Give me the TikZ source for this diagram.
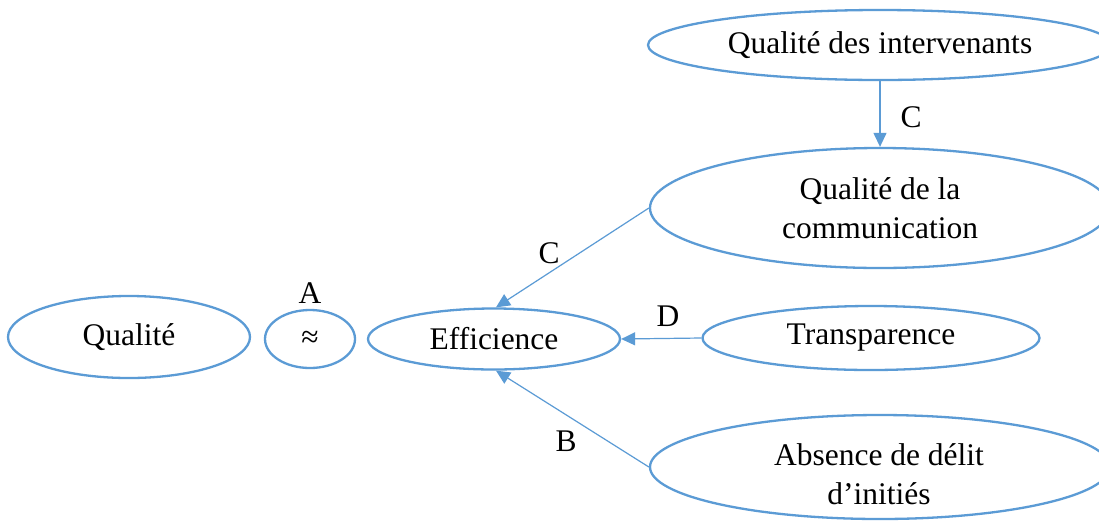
\documentclass[tikz,border=0pt]{standalone}
\usepackage{fontspec}
\setmainfont{Liberation Serif}
\usetikzlibrary{shapes.geometric,arrows.meta}
\definecolor{blu}{HTML}{5B9BD5}
\begin{document}
\begin{tikzpicture}[x=1pt,y=-1pt,
  oval/.style={ellipse,draw=blu,line width=2.3pt,inner sep=0pt,align=center,font=\fontsize{31.5}{39.5}\selectfont},
  txt/.style={inner sep=0pt,align=center,font=\fontsize{31.5}{39.5}\selectfont},
  conn/.style={draw=blu,line width=1.2pt,-{Triangle[length=14pt,width=13pt]}},
  lbl/.style={font=\fontsize{31.5}{37}\selectfont,inner sep=0pt}]
\useasboundingbox[fill=white] (0,0) rectangle (1099,520);
\node[oval,minimum width=242,minimum height=82] (q) at (129,337) {Qualité};
\node[oval,minimum width=90,minimum height=58] (ap) at (310,339) {\raisebox{-4pt}{≈}};
\node[oval,minimum width=252,minimum height=61] (eff) at (494,339) {Efficience};
\node[oval,minimum width=464,minimum height=70] (qi) at (880,45) {Qualité des intervenants};
\node[oval,minimum width=460,minimum height=120] (comm) at (880,208) {Qualité de la\\communication};
\node[oval,minimum width=337,minimum height=64] (tr) at (871,338) {Transparence};
\node[oval,minimum width=460,minimum height=104] (abs) at (880,467) {};
\node[txt] (abst) at (879,474) {Absence de délit\\d’initiés};
\draw[conn] (qi.south) -- (comm.north);
\draw[conn] (comm.west) -- ([xshift=2pt]eff.north);
\draw[conn] (tr.west) -- (eff.east);
\draw[conn] (abs.west) -- ([xshift=2pt]eff.south);
\node[lbl] (la) at (310,293) {A};
\node[lbl] (lc1) at (911,117) {C};
\node[lbl] (lc2) at (549,253) {C};
\node[lbl] (ld) at (668,316) {D};
\node[lbl] (lb) at (566,441) {B};
\end{tikzpicture}
\end{document}
